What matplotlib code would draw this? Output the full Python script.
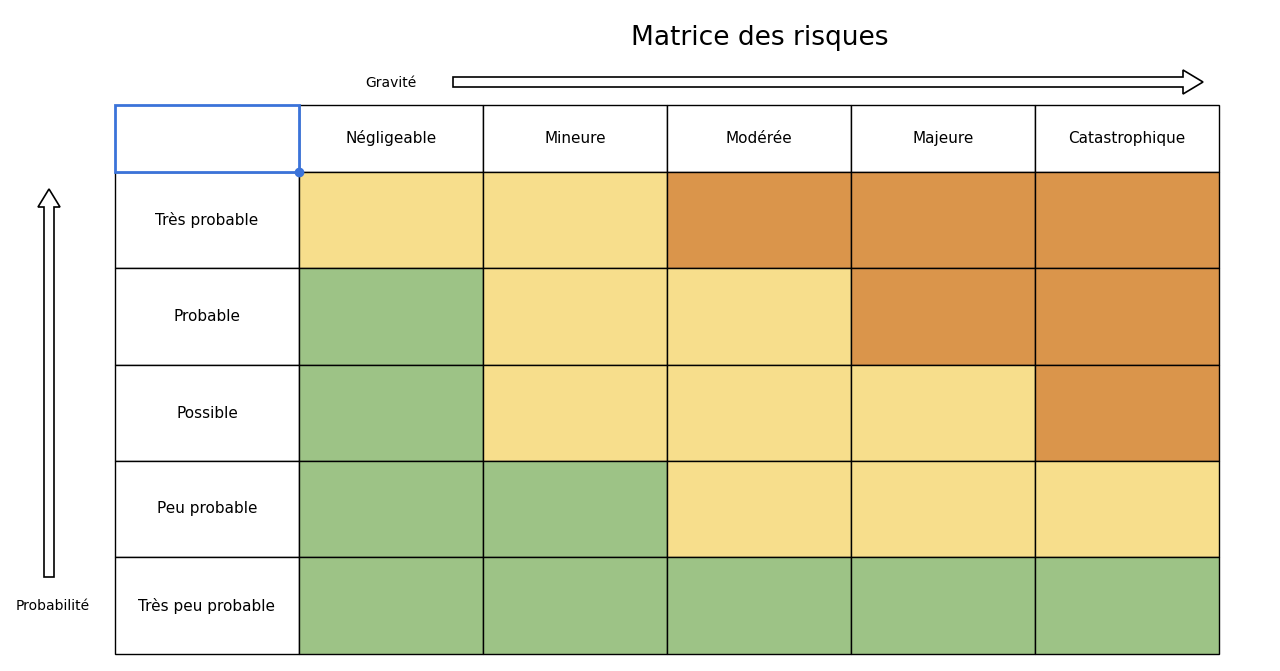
import matplotlib
matplotlib.use('Agg')
import matplotlib.pyplot as plt
from matplotlib.patches import Rectangle, FancyArrow

gravites = ["Négligeable", "Mineure", "Modérée", "Majeure", "Catastrophique"]
probabilites = ["Très probable", "Probable", "Possible", "Peu probable", "Très peu probable"]
# 0 = faible (vert), 1 = moyen (jaune), 2 = élevé (orange)
niveaux = [
    [1, 1, 2, 2, 2],
    [0, 1, 1, 2, 2],
    [0, 1, 1, 1, 2],
    [0, 0, 1, 1, 1],
    [0, 0, 0, 0, 0],
]
couleurs = {0: "#9dc386", 1: "#f7de8c", 2: "#da954b"}

fig = plt.figure(figsize=(12.8, 6.71), dpi=100)
ax = fig.add_axes([0, 0, 1, 1])
ax.set_xlim(0, 1280)
ax.set_ylim(671, 0)
ax.axis("off")

xs = [115, 299, 483, 667, 851, 1035, 1219]
ys = [105, 172, 268, 365, 461, 557, 654]

# header row
for j, g in enumerate(gravites):
    x0, x1 = xs[j + 1], xs[j + 2]
    ax.add_patch(Rectangle((x0, ys[0]), x1 - x0, ys[1] - ys[0], fc="white", ec="black", lw=1))
    ax.text((x0 + x1) / 2, (ys[0] + ys[1]) / 2, g, ha="center", va="center", fontsize=11)

# rows
for i, p in enumerate(probabilites):
    y0, y1 = ys[i + 1], ys[i + 2]
    ax.add_patch(Rectangle((xs[0], y0), xs[1] - xs[0], y1 - y0, fc="white", ec="black", lw=1))
    ax.text((xs[0] + xs[1]) / 2, (y0 + y1) / 2, p, ha="center", va="center", fontsize=11)
    for j in range(len(gravites)):
        x0, x1 = xs[j + 1], xs[j + 2]
        ax.add_patch(Rectangle((x0, y0), x1 - x0, y1 - y0, fc=couleurs[niveaux[i][j]], ec="black", lw=1))

# selected top-left cell
ax.add_patch(Rectangle((xs[0], ys[0]), xs[1] - xs[0], ys[1] - ys[0], fc="white", ec="#3b73d9", lw=2, zorder=5))
ax.plot(xs[1], ys[1], "o", color="#3b73d9", ms=6, zorder=6)

ax.text(760, 38, "Matrice des risques", ha="center", va="center", fontsize=19)
ax.text(391, 83, "Gravité", ha="center", va="center", fontsize=10)
ax.text(53, 606, "Probabilité", ha="center", va="center", fontsize=10)

ax.add_patch(FancyArrow(453, 82, 730, 0, width=10, head_width=24, head_length=20,
                        length_includes_head=False, fill=False, ec="black", lw=1.2))
ax.add_patch(FancyArrow(49, 577, 0, -370, width=10, head_width=22, head_length=18,
                        length_includes_head=False, fill=False, ec="black", lw=1.2))

fig.savefig("out.png", dpi=100)
